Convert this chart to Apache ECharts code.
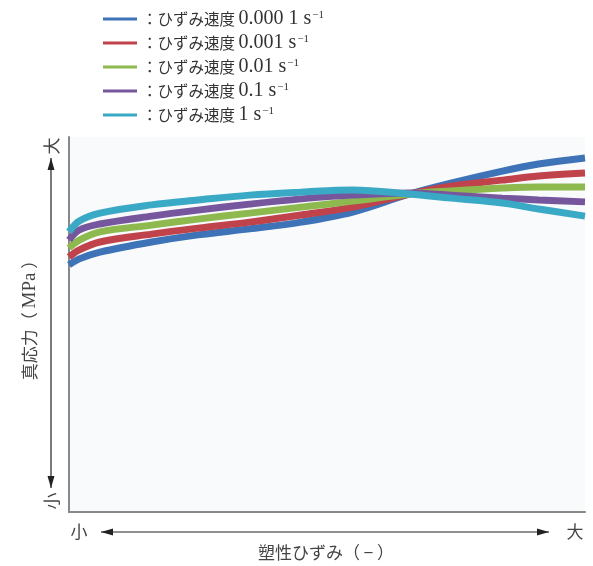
<!DOCTYPE html>
<html>
<head>
<meta charset="utf-8">
<script src="https://cdn.jsdelivr.net/npm/echarts@6/dist/echarts.min.js"></script>
<style>
  html, body { margin: 0; padding: 0; background: #fff; }
  #main { width: 593px; height: 566px; }
</style>
</head>
<body>
<div id="main"></div>
<script>
// 塑性ひずみ（相対値 0-100）
const strain = [0, 2, 6, 16, 25, 35, 45, 55, 66, 74, 84, 91, 100]
// 真応力（相対値 0-100）
const rate00001 = [65.9, 67.5, 69.3, 72.0, 73.9, 75.5, 77.3, 80.0, 84.8, 87.7, 90.9, 92.8, 94.4]
const rate0001 = [68.0, 69.9, 72.0, 74.1, 75.7, 77.3, 79.2, 81.3, 84.8, 86.9, 88.5, 89.6, 90.4]
const rate001 = [70.4, 72.5, 74.7, 76.5, 78.1, 79.7, 81.3, 82.9, 84.8, 85.6, 86.4, 86.7, 86.7]
const rate01 = [72.5, 75.2, 76.8, 78.9, 80.5, 82.1, 83.5, 84.5, 85.1, 84.5, 83.7, 83.2, 82.7]
const rate1 = [74.7, 77.6, 79.7, 81.9, 83.2, 84.5, 85.3, 85.9, 84.8, 83.7, 82.4, 80.8, 78.9]
const rateNames = ['0.000 1', '0.001', '0.01', '0.1', '1']
const colors = ['#3f73b7', '#c0424b', '#8db94f', '#76579d', '#3aa9c5']

const fontJP = "'Noto Sans CJK JP', sans-serif"
const fontLatin = "'Liberation Serif', serif"

let chart = echarts.init(document.getElementById('main'))

function toPairs(arr) {
  return arr.map((v, i) => [strain[i], v])
}

let allData = [rate00001, rate0001, rate001, rate01, rate1]
let series = allData.map((d, i) => {
  return {
    name: 'ひずみ速度 ' + rateNames[i],
    type: 'line',
    smooth: 0.35,
    showSymbol: false,
    symbol: 'none',
    lineStyle: { color: colors[i], width: 7 },
    itemStyle: { color: colors[i] },
    z: 2 + i,
    data: toPairs(d)
  }
})

// 矢印付きの線
function arrowLine(x1, y1, x2, y2) {
  let dx = x2 - x1, dy = y2 - y1
  let len = Math.sqrt(dx * dx + dy * dy)
  let ux = dx / len, uy = dy / len
  let hl = 12, hw = 3.5
  let head = (px, py, sx, sy) => [
    [px, py],
    [px - sx * hl - sy * hw, py - sy * hl + sx * hw],
    [px - sx * hl + sy * hw, py - sy * hl - sx * hw]
  ]
  return [
    { type: 'line', shape: { x1: x1, y1: y1, x2: x2, y2: y2 }, style: { stroke: '#222', lineWidth: 1.2 } },
    { type: 'polygon', shape: { points: head(x2, y2, ux, uy) }, style: { fill: '#222' } },
    { type: 'polygon', shape: { points: head(x1, y1, -ux, -uy) }, style: { fill: '#222' } }
  ]
}

let titleRich = {
  j: { fontFamily: fontJP, fontSize: 17, fill: '#444', color: '#444' },
  l: { fontFamily: fontLatin, fontSize: 19, fill: '#444', color: '#444' }
}
function label(x, y, text, rot) {
  return {
    type: 'text', x: x, y: y, rotation: rot || 0,
    style: { text: text, rich: titleRich, fill: '#444', align: 'center', verticalAlign: 'middle',
      font: '17px ' + fontJP }
  }
}

let option = {
  animation: false,
  backgroundColor: '#fff',
  grid: {
    left: 69, top: 137, right: 8, bottom: 54,
    show: true, backgroundColor: '#f9fafc', borderWidth: 0
  },
  legend: {
    orient: 'vertical',
    left: 98, top: 4,
    itemWidth: 34, itemHeight: 3,
    itemGap: 4,
    icon: 'rect',
    data: series.map(s => s.name),
    formatter: function(name) {
      let v = name.replace('ひずみ速度 ', '')
      return '{j|：ひずみ速度 }{n|' + v + ' s}{sup|−1}'
    },
    textStyle: {
      color: '#333',
      fontFamily: fontJP,
      fontSize: 15.5,
      rich: {
        j: { fontSize: 15.5, fontFamily: fontJP, color: '#333', lineHeight: 20 },
        n: { fontSize: 20, fontFamily: fontLatin, color: '#333', lineHeight: 20 },
        sup: { fontSize: 11, fontFamily: fontLatin, color: '#333', padding: [0, 0, 8, 1], lineHeight: 20 }
      }
    }
  },
  xAxis: {
    type: 'value', min: 0, max: 100,
    axisLine: { show: true, lineStyle: { color: '#888', width: 2 } },
    axisTick: { show: false }, axisLabel: { show: false }, splitLine: { show: false }
  },
  yAxis: {
    type: 'value', min: 0, max: 100,
    axisLine: { show: true, lineStyle: { color: '#888', width: 2 } },
    axisTick: { show: false }, axisLabel: { show: false }, splitLine: { show: false }
  },
  graphic: [].concat(
    arrowLine(51, 158, 51, 488),
    arrowLine(101, 532, 549, 532),
    [
      label(52, 146, '{j|大}', Math.PI / 2),
      label(52, 501, '{j|小}', Math.PI / 2),
      label(30, 316, '{j|真応力（ }{l|MPa}{j| ）}', Math.PI / 2),
      label(79, 532, '{j|小}'),
      label(575, 532, '{j|大}'),
      label(326, 553, '{j|塑性ひずみ（ − ）}')
    ]
  ),
  series: series
}
chart.setOption(option)
</script>
</body>
</html>
